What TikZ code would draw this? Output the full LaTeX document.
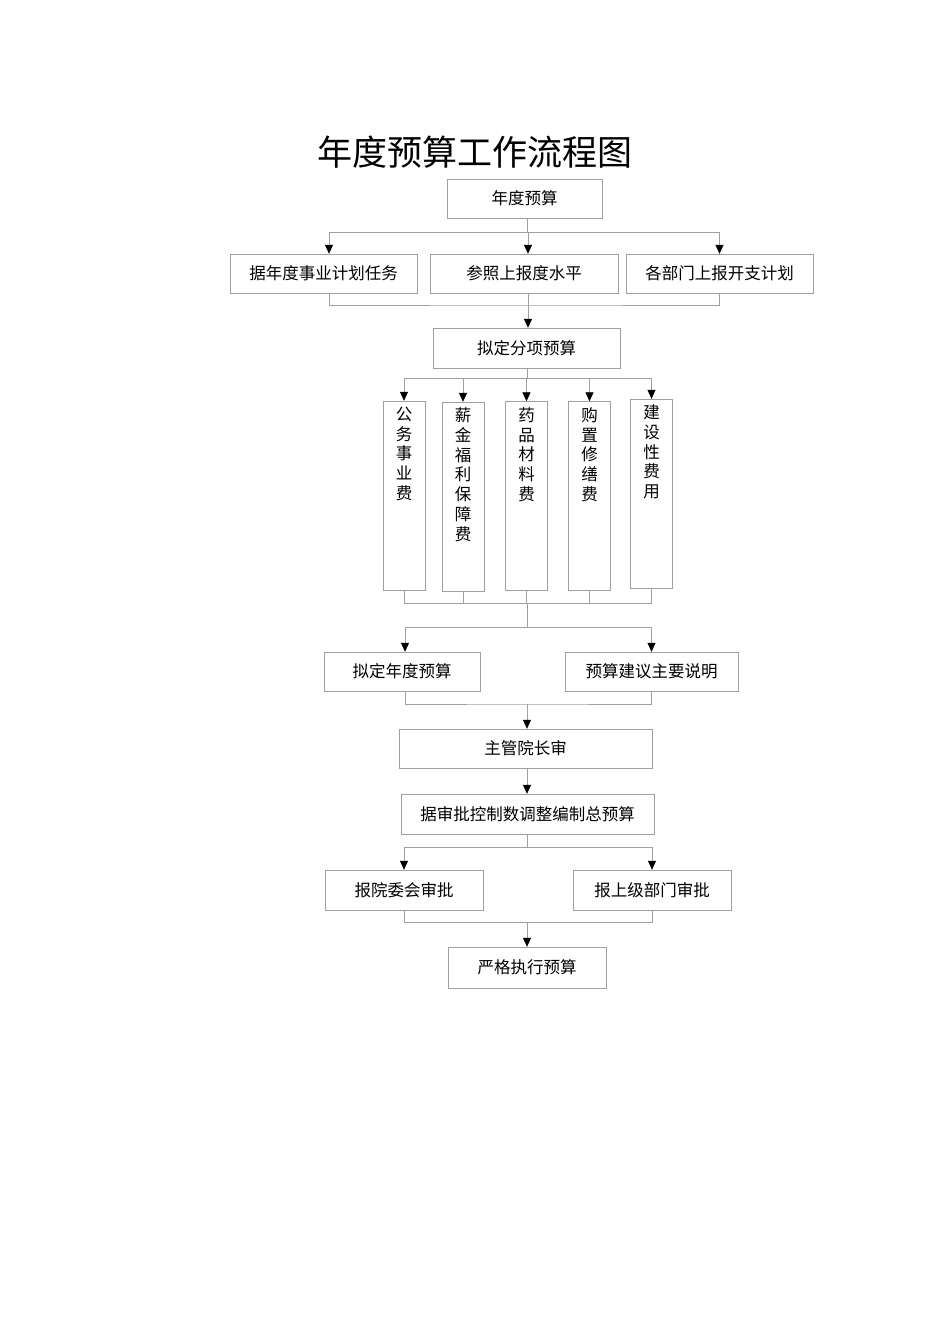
\documentclass[tikz,border=0pt]{standalone}
\usepackage{fontspec}
\setmainfont{Noto Sans CJK SC}
\usetikzlibrary{arrows.meta,positioning,calc}
\definecolor{rule}{HTML}{A0A0A0}
\tikzset{
box/.style = {draw=rule, fill=white, rectangle, align=center, inner sep=0pt, font=\fontsize{16.5}{19.7}\selectfont},
tallbox/.style = {draw=rule, fill=white, rectangle, minimum width=42pt, minimum height=189pt},
vtext/.style = {align=center, inner sep=0pt, font=\fontsize{16.5}{19.7}\selectfont},
line/.style = {draw=rule, line width=0.8pt},
arr/.style = {line, -{Triangle[color=black,width=8pt,length=9pt]}},
}
\begin{document}
\begin{tikzpicture}[x=1pt,y=-1pt]
    \useasboundingbox (0,0) rectangle (950,1344);
    \node [font=\fontsize{35}{40}\selectfont] (title) at (475,152) {年度预算工作流程图};

    \node [box, minimum width=155pt, minimum height=39pt] (plan) at (524.5,198.5) {年度预算};
    \node [box, minimum width=187pt, minimum height=39pt] (task) at (323.5,273.5) {据年度事业计划任务};
    \node [box, minimum width=188pt, minimum height=39pt] (level) at (524,273.5) {参照上报度水平};
    \node [box, minimum width=187pt, minimum height=39pt] (dept) at (719.5,273.5) {各部门上报开支计划};
    \node [box, minimum width=187pt, minimum height=40pt] (split) at (526.5,348) {拟定分项预算};

    % tall boxes with vertical text
    \node [tallbox] (pub) at (404,495.5) {};
    \node [tallbox] (pay) at (463,496.5) {};
    \node [tallbox] (drug) at (526.5,496) {};
    \node [tallbox] (buy) at (589.5,496) {};
    \node [tallbox] (build) at (651.5,493.5) {};
    \node [vtext, below=6pt of pub.north] (pubtext) {公\\务\\事\\业\\费};
    \node [vtext, below=6pt of pay.north] (paytext) {薪\\金\\福\\利\\保\\障\\费};
    \node [vtext, below=6pt of drug.north] (drugtext) {药\\品\\材\\料\\费};
    \node [vtext, below=6pt of buy.north] (buytext) {购\\置\\修\\缮\\费};
    \node [vtext, below=6pt of build.north] (buildtext) {建\\设\\性\\费\\用};

    \node [box, minimum width=156pt, minimum height=39pt] (year) at (402,671.5) {拟定年度预算};
    \node [box, minimum width=173pt, minimum height=39pt] (note) at (651.5,671.5) {预算建议主要说明};
    \node [box, minimum width=253pt, minimum height=39pt] (head) at (525.5,748.5) {主管院长审};
    \node [box, minimum width=253pt, minimum height=40pt] (total) at (527.5,814) {据审批控制数调整编制总预算};
    \node [box, minimum width=158pt, minimum height=40pt] (board) at (404,890) {报院委会审批};
    \node [box, minimum width=158pt, minimum height=40pt] (upper) at (652,890) {报上级部门审批};
    \node [box, minimum width=158pt, minimum height=41pt] (exec) at (527,967.5) {严格执行预算};

    \coordinate (f1) at (527,232);
    \coordinate (j1) at (528,305);
    \coordinate (f2) at (527,378);
    \coordinate (j2) at (527,603);
    \coordinate (f3) at (527,627);
    \coordinate (j3) at (527,704);
    \coordinate (f4) at (527,847);
    \coordinate (j4) at (527,922);

    \draw [line] (plan.south -| f1) -- (f1);
    \draw [arr] (f1) -| ([xshift=5.5pt]task.north);
    \draw [arr] (f1) -| ([xshift=4pt]level.north);
    \draw [arr] (f1) -| (dept.north);

    \draw [line] ([xshift=5.5pt]task.south) |- (j1) -| (dept.south);
    \draw [line] ([xshift=4pt]level.south) -- (j1);
    \draw [arr] (j1) -- (split.north -| j1);

    \draw [line] (split.south -| f2) -- (f2);
    \draw [line] (pub.north |- f2) -- (build.north |- f2);
    \foreach \n in {pub,pay,drug,buy,build}{
      \draw [arr] (\n.north |- f2) -- (\n.north);
      \draw [line] (\n.south) -- (\n.south |- j2);
    }
    \draw [line] (pub.south |- j2) -- (build.south |- j2);
    \draw [line] (j2) -- (f3);
    \draw [arr] (f3) -| ([xshift=3pt]year.north);
    \draw [arr] (f3) -| (note.north);

    \draw [line] ([xshift=3pt]year.south) |- (j3) -| (note.south);
    \draw [arr] (j3) -- (head.north -| j3);
    \draw [arr] (head.south -| j3) -- (total.north -| j3);

    \draw [line] (total.south -| f4) -- (f4);
    \draw [arr] (f4) -| (board.north);
    \draw [arr] (f4) -| (upper.north);

    \draw [line] (board.south) |- (j4) -| (upper.south);
    \draw [arr] (j4) -- (exec.north -| j4);
\end{tikzpicture}
\end{document}
